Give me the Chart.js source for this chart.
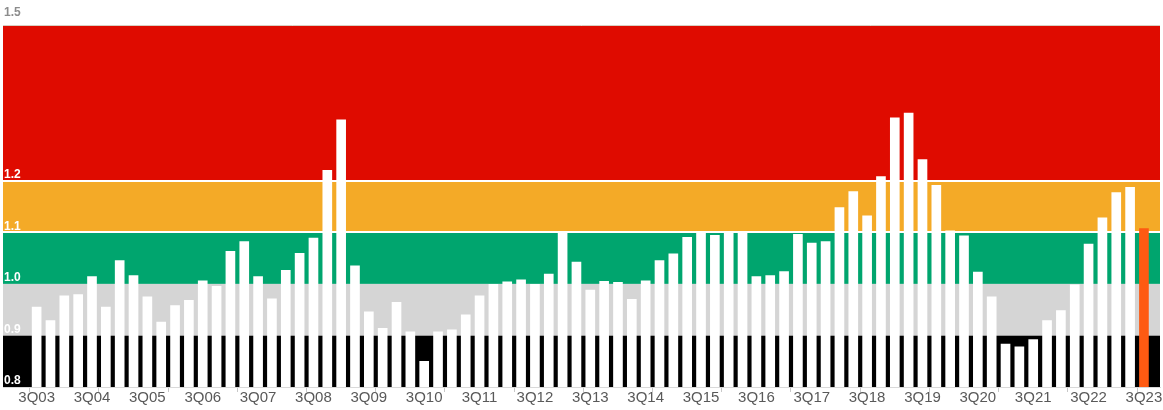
<!DOCTYPE html>
<html>
<head>
<meta charset="utf-8">
<script src="https://cdn.jsdelivr.net/npm/chart.js@4/dist/chart.umd.min.js"></script>
<style>
  html, body { margin: 0; padding: 0; background: #fff; }
  #wrap { width: 1163px; height: 410px; }
</style>
</head>
<body>
<div id="wrap"><canvas id="chart" width="1163" height="410"></canvas></div>
<script>
// quarterly readings, 3Q03 .. 3Q23
const values = [
  0.955, 0.929, 0.977, 0.979, 1.014, 0.955, 1.045, 1.016, 0.975, 0.926,
  0.958, 0.968, 1.006, 0.995, 1.063, 1.082, 1.014, 0.971, 1.026, 1.059,
  1.089, 1.220, 1.318, 1.035, 0.946, 0.914, 0.964, 0.907, 0.850, 0.907,
  0.911, 0.940, 0.977, 0.999, 1.004, 1.008, 0.999, 1.019, 1.100, 1.042,
  0.988, 1.005, 1.003, 0.970, 1.006, 1.045, 1.058, 1.090, 1.101, 1.094,
  1.100, 1.102, 1.014, 1.016, 1.024, 1.096, 1.079, 1.082, 1.148, 1.179,
  1.132, 1.208, 1.322, 1.331, 1.241, 1.191, 1.103, 1.093, 1.023, 0.975,
  0.883, 0.878, 0.892, 0.929, 0.948, 0.998, 1.077, 1.128, 1.177, 1.187,
  1.107
];
const tickLabels = ['3Q03', '3Q04', '3Q05', '3Q06', '3Q07', '3Q08', '3Q09', '3Q10', '3Q11', '3Q12',
  '3Q13', '3Q14', '3Q15', '3Q16', '3Q17', '3Q18', '3Q19', '3Q20', '3Q21', '3Q22', '3Q23'];
const yTicks = [0.8, 0.9, 1.0, 1.1, 1.2];
const yTopTick = [1.5];
const bandEdges = [0.8, 0.9, 1.0, 1.1, 1.2, 1.5];
const bandColors = ['#000000', '#d5d5d5', '#00a56e', '#f4aa27', '#df0b00'];

const points = values.map((v, i) => ({ x: i, y: v }));
const barColors = values.map((v, i) => i === values.length - 1 ? '#fe5a12' : '#ffffff');
const font = 'Liberation Sans, Arial, sans-serif';

// coloured risk bands behind the bars
const bands = {
  id: 'bands',
  beforeDraw(chart) {
    const { ctx, chartArea, scales } = chart;
    const y = scales.y;
    ctx.save();
    for (let i = 0; i < bandColors.length; i++) {
      const top = y.getPixelForValue(bandEdges[i + 1]);
      const bottom = y.getPixelForValue(bandEdges[i]);
      ctx.fillStyle = bandColors[i];
      ctx.fillRect(chartArea.left, top, chartArea.right - chartArea.left, bottom - top);
    }
    ctx.strokeStyle = '#d8cfc2';
    ctx.lineWidth = 1;
    ctx.beginPath();
    ctx.moveTo(chartArea.left, chartArea.top - 0.5);
    ctx.lineTo(chartArea.right, chartArea.top - 0.5);
    ctx.stroke();
    ctx.restore();
  }
};

new Chart(document.getElementById('chart'), {
  type: 'bar',
  data: {
    datasets: [{
      data: points,
      backgroundColor: barColors,
      barThickness: 9,
      borderWidth: 0
    }]
  },
  options: {
    responsive: false,
    animation: false,
    layout: { padding: { left: 3, right: 3, top: 26, bottom: 0 } },
    plugins: { legend: { display: false }, tooltip: { enabled: false } },
    scales: {
      x: {
        type: 'linear',
        offset: false,
        min: -2.43,
        max: 81.16,
        afterFit(scale) { scale.height = 23; },
        afterBuildTicks(scale) {
          const t = [];
          for (let k = 0; k < tickLabels.length; k++) t.push({ value: k * 4 });
          for (let v = -0.5; v < 81; v += 5) t.push({ value: v });
          t.sort((a, b) => a.value - b.value);
          scale.ticks = t;
        },
        ticks: {
          autoSkip: false,
          maxRotation: 0,
          padding: -2,
          color: '#595959',
          font: { family: font, size: 15, lineHeight: 1.1 },
          callback(value) {
            if (Number.isInteger(value) && value % 4 === 0) return tickLabels[value / 4];
            return '';
          }
        },
        grid: {
          offset: false,
          drawOnChartArea: false,
          drawTicks: true,
          tickLength: 5,
          color(ctx) {
            const v = ctx.tick ? ctx.tick.value : 0;
            return Number.isInteger(v) ? 'rgba(0,0,0,0)' : '#c8c8c8';
          }
        },
        border: { display: true, color: '#d9d9d9', width: 1 }
      },
      y: {
        min: 0.8,
        max: 1.5,
        afterFit(scale) { scale.width = 0; },
        afterBuildTicks(scale) {
          scale.ticks = yTicks.map(v => ({ value: v }));
        },
        ticks: {
          mirror: true,
          padding: 1,
          labelOffset: -6,
          color: '#ffffff',
          font: { family: font, size: 12, weight: 'bold' },
          callback(value) { return value.toFixed(1); }
        },
        grid: {
          drawTicks: false,
          lineWidth: 2,
          color(ctx) {
            const v = ctx.tick ? ctx.tick.value : 0;
            return (v === 1.1 || v === 1.2) ? '#ffffff' : 'rgba(0,0,0,0)';
          }
        },
        border: { display: false }
      },
      yTop: {
        position: 'left',
        min: 0.8,
        max: 1.5,
        afterFit(scale) { scale.width = 0; },
        afterBuildTicks(scale) {
          scale.ticks = yTopTick.map(v => ({ value: v }));
        },
        ticks: {
          mirror: true,
          padding: 1,
          labelOffset: -13,
          color: '#8c8c8c',
          font: { family: font, size: 12, weight: 'bold' },
          callback(value) { return value.toFixed(1); }
        },
        grid: { display: false, drawTicks: false },
        border: { display: false }
      }
    }
  },
  plugins: [bands]
});
</script>
</body>
</html>
